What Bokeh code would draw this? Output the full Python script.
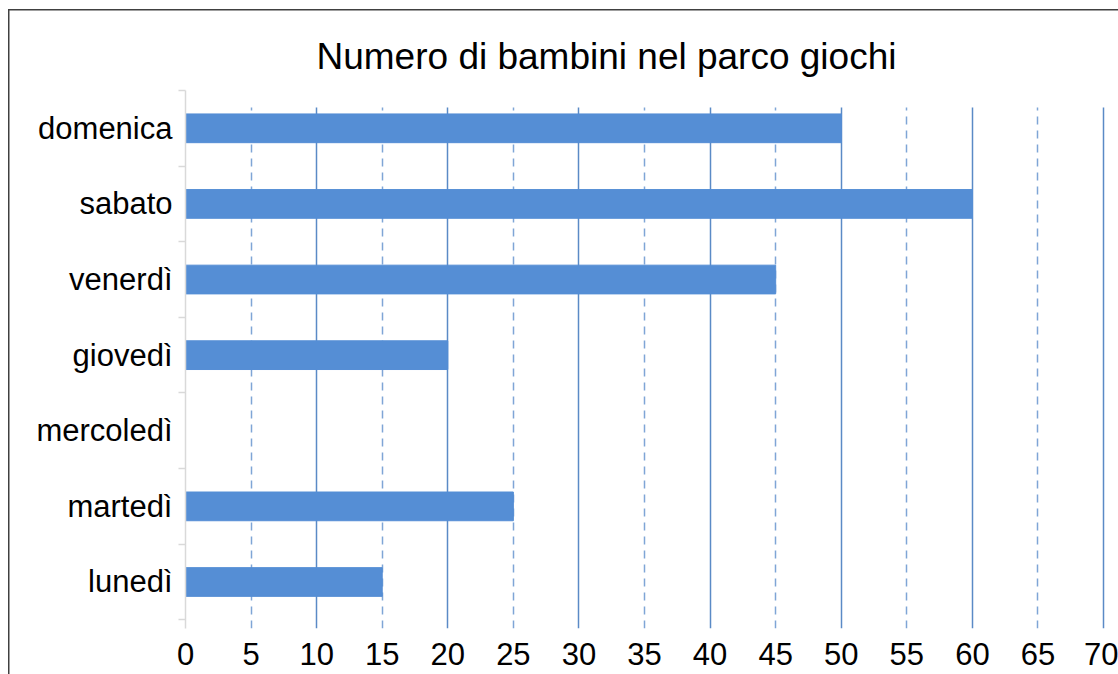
from bokeh.plotting import figure
from bokeh.models import Range1d, FixedTicker
from bokeh.embed import file_html
from bokeh.resources import INLINE

# ---- data ----
days = ["lunedì", "martedì", "mercoledì", "giovedì", "venerdì", "sabato", "domenica"]
children = [15, 25, 0, 20, 45, 60, 50]
x_ticks = [0, 5, 10, 15, 20, 25, 30, 35, 40, 45, 50, 55, 60, 65, 70]
solid_grid = [10, 20, 30, 40, 50, 60, 70]
dashed_grid = [5, 15, 25, 35, 45, 55, 65]
title_text = "Numero di bambini nel parco giochi"

pos = list(range(len(days)))
boundaries = [i - 0.5 for i in range(len(days) + 1)]

FONT = "Liberation Sans"

p = figure(width=1118, height=674, output_backend="svg", toolbar_location=None,
           x_range=Range1d(0, 71.14), y_range=Range1d(-0.615, 6.5),
           min_border_left=185, min_border_right=0, min_border_bottom=46,
           min_border_top=90)
p.outline_line_color = None
p.background_fill_color = "white"
p.border_fill_color = None
# chart-area border (only its left and top edges fall inside the window)
p.styles = {
    "background": ("linear-gradient(#404040, #404040) 8px 9px / 1.5px 100% no-repeat, "
                   "linear-gradient(#404040, #404040) 8px 9px / 100% 1.5px no-repeat, "
                   "white"),
}

p.hbar(y=pos, right=children, left=0, height=0.38,
       fill_color="#558ED5", line_color="#558ED5")

# title
p.title.text = title_text
p.title.text_font = FONT
p.title.text_font_size = "37px"
p.title.text_font_style = "normal"
p.title.text_color = "black"
p.title.align = "left"
p.title.offset = 131
p.title.standoff = 28

# x axis
xa = p.xaxis[0]
xa.ticker = FixedTicker(ticks=x_ticks)
xa.axis_line_color = None
xa.major_tick_line_color = None
xa.minor_tick_line_color = None
xa.major_label_text_font = FONT
xa.major_label_text_font_size = "31px"
xa.major_label_text_color = "black"
xa.major_label_standoff = 8

# y axis
ya = p.yaxis[0]
ya.ticker = FixedTicker(ticks=pos, minor_ticks=boundaries)
ya.major_label_overrides = {i: d for i, d in zip(pos, days)}
ya.axis_line_color = "#D9D9D9"
ya.axis_line_width = 1.5
ya.major_tick_line_color = None
ya.minor_tick_line_color = "#D9D9D9"
ya.minor_tick_line_width = 1.5
ya.minor_tick_out = 7
ya.minor_tick_in = 0
ya.major_label_text_font = FONT
ya.major_label_text_font_size = "31px"
ya.major_label_text_color = "black"
ya.major_label_standoff = 6

# grid
p.ygrid.visible = False
g = p.xgrid[0]
g.ticker = FixedTicker(ticks=solid_grid, minor_ticks=dashed_grid)
g.grid_line_color = "#5A8AC6"
g.grid_line_width = 1.5
g.minor_grid_line_color = "#7FA5D6"
g.minor_grid_line_width = 1.5
g.minor_grid_line_dash = "8 6"
try:
    g.cross_bounds = (-0.615, 6.28)
except Exception:
    pass

open("out.html", "w").write(file_html(p, INLINE))
